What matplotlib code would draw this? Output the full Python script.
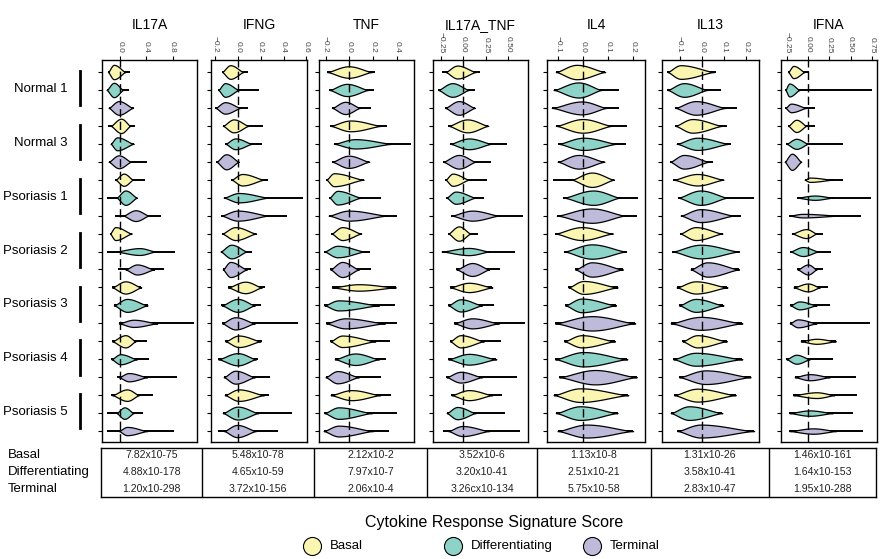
import numpy as np
import matplotlib
matplotlib.use("Agg")
import matplotlib.pyplot as plt
from matplotlib.lines import Line2D
import matplotlib.transforms as mtransforms

plt.rcParams['font.family'] = ['Liberation Sans', 'DejaVu Sans']

# ---------------------------------------------------------------- data
cytokines = ["IL17A", "IFNG", "TNF", "IL17A_TNF", "IL4", "IL13", "IFNA"]
samples = ["Normal 1", "Normal 3", "Psoriasis 1", "Psoriasis 2",
           "Psoriasis 3", "Psoriasis 4", "Psoriasis 5"]
layers = ["Basal", "Differentiating", "Terminal"]
layer_colors = ["#FAF5B0", "#8DD3C7", "#BEBADA"]

# one row per violin (sample x layer, top to bottom):
# (whisker min, body low, mode, body high, whisker max, half width)
il17a = [
    (-0.18, -0.18, -0.09, 0.086, 0.16, 0.40),
    (-0.20, -0.20, -0.09, 0.05, 0.137, 0.40),
    (-0.17, -0.17, -0.015, 0.20, 0.22, 0.38),
    (-0.18, -0.14, 0.02, 0.16, 0.23, 0.40),
    (-0.14, -0.14, -0.04, 0.21, 0.21, 0.36),
    (-0.17, -0.17, -0.015, 0.17, 0.416, 0.36),
    (-0.066, -0.066, 0.06, 0.20, 0.375, 0.34),
    (-0.19, -0.05, 0.086, 0.26, 0.26, 0.40),
    (-0.076, 0.05, 0.24, 0.44, 0.63, 0.30),
    (-0.15, -0.15, -0.066, 0.18, 0.18, 0.36),
    (-0.20, -0.066, 0.30, 0.54, 0.84, 0.19),
    (-0.03, 0.086, 0.26, 0.52, 0.67, 0.28),
    (-0.117, -0.117, 0.086, 0.325, 0.325, 0.34),
    (-0.09, -0.09, 0.11, 0.42, 0.42, 0.36),
    (-0.015, -0.015, 0.21, 0.57, 1.13, 0.20),
    (-0.117, -0.117, 0.086, 0.24, 0.416, 0.34),
    (-0.127, -0.127, 0.01, 0.26, 0.44, 0.28),
    (-0.04, -0.015, 0.137, 0.416, 0.87, 0.23),
    (-0.14, -0.117, 0.11, 0.29, 0.50, 0.32),
    (-0.19, -0.05, 0.07, 0.21, 0.355, 0.32),
    (-0.20, -0.015, 0.11, 0.416, 0.82, 0.23),
]
ifng = [
    (-0.137, -0.137, -0.064, 0.05, 0.09, 0.38),
    (-0.17, -0.17, -0.11, 0.01, 0.19, 0.38),
    (-0.195, -0.195, -0.11, 0.025, 0.09, 0.32),
    (-0.13, -0.13, -0.035, 0.095, 0.22, 0.36),
    (-0.108, -0.108, -0.02, 0.125, 0.21, 0.30),
    (-0.186, -0.186, -0.10, 0.01, 0.01, 0.42),
    (-0.055, -0.055, 0.04, 0.23, 0.265, 0.32),
    (-0.122, -0.122, 0.01, 0.27, 0.57, 0.26),
    (-0.143, -0.143, 0.0, 0.27, 0.43, 0.28),
    (-0.137, -0.137, -0.02, 0.16, 0.16, 0.36),
    (-0.15, -0.15, -0.055, 0.08, 0.125, 0.38),
    (-0.13, -0.13, -0.064, 0.08, 0.12, 0.42),
    (-0.085, -0.085, 0.067, 0.21, 0.24, 0.32),
    (-0.15, -0.14, 0.0, 0.15, 0.20, 0.36),
    (-0.137, -0.137, -0.02, 0.15, 0.53, 0.34),
    (-0.108, -0.108, 0.01, 0.20, 0.21, 0.32),
    (-0.17, -0.17, 0.0, 0.16, 0.175, 0.34),
    (-0.122, -0.122, -0.02, 0.15, 0.285, 0.36),
    (-0.113, -0.113, 0.01, 0.23, 0.27, 0.32),
    (-0.13, -0.13, 0.0, 0.18, 0.475, 0.36),
    (-0.175, -0.12, -0.005, 0.16, 0.35, 0.34),
]
tnf = [
    (-0.188, -0.188, -0.005, 0.19, 0.22, 0.32),
    (-0.168, -0.168, -0.02, 0.16, 0.21, 0.34),
    (-0.146, -0.146, -0.034, 0.09, 0.18, 0.34),
    (-0.16, -0.16, 0.01, 0.27, 0.317, 0.30),
    (-0.13, -0.13, 0.05, 0.36, 0.52, 0.26),
    (-0.146, -0.146, -0.005, 0.168, 0.168, 0.34),
    (-0.193, -0.193, -0.13, 0.12, 0.12, 0.36),
    (-0.168, -0.168, -0.10, 0.10, 0.27, 0.38),
    (-0.174, -0.174, -0.005, 0.32, 0.40, 0.28),
    (-0.15, -0.15, -0.06, 0.10, 0.10, 0.36),
    (-0.21, -0.21, -0.10, 0.13, 0.17, 0.32),
    (-0.16, -0.16, -0.06, 0.08, 0.18, 0.42),
    (-0.146, -0.146, 0.08, 0.39, 0.39, 0.18),
    (-0.21, -0.21, -0.09, 0.25, 0.38, 0.28),
    (-0.196, -0.196, -0.034, 0.30, 0.40, 0.28),
    (-0.16, -0.16, -0.06, 0.22, 0.34, 0.32),
    (-0.123, -0.123, 0.05, 0.25, 0.31, 0.32),
    (-0.20, -0.20, -0.10, 0.08, 0.27, 0.34),
    (-0.157, -0.157, 0.02, 0.26, 0.35, 0.28),
    (-0.21, -0.21, -0.09, 0.19, 0.40, 0.32),
    (-0.216, -0.216, -0.09, 0.20, 0.33, 0.30),
]
il17a_tnf = [
    (-0.24, -0.20, -0.067, 0.14, 0.187, 0.36),
    (-0.284, -0.284, -0.123, 0.063, 0.13, 0.38),
    (-0.205, -0.205, -0.05, 0.13, 0.13, 0.38),
    (-0.168, -0.168, 0.045, 0.28, 0.28, 0.36),
    (-0.15, -0.15, 0.063, 0.317, 0.49, 0.30),
    (-0.228, -0.228, -0.05, 0.138, 0.313, 0.38),
    (-0.20, -0.20, -0.12, 0.063, 0.27, 0.34),
    (-0.19, -0.19, -0.086, 0.138, 0.23, 0.34),
    (-0.134, -0.134, 0.10, 0.40, 0.668, 0.28),
    (-0.17, -0.17, -0.05, 0.08, 0.168, 0.40),
    (-0.243, -0.243, 0.063, 0.29, 0.575, 0.20),
    (-0.078, -0.078, 0.10, 0.29, 0.407, 0.36),
    (-0.15, -0.15, 0.063, 0.325, 0.325, 0.26),
    (-0.17, -0.17, -0.03, 0.21, 0.343, 0.34),
    (-0.105, -0.105, 0.10, 0.40, 0.687, 0.28),
    (-0.15, -0.15, -0.03, 0.23, 0.425, 0.34),
    (-0.17, -0.17, 0.063, 0.37, 0.37, 0.30),
    (-0.19, -0.19, -0.03, 0.21, 0.60, 0.30),
    (-0.134, -0.134, 0.063, 0.325, 0.43, 0.28),
    (-0.187, -0.187, -0.067, 0.138, 0.466, 0.34),
    (-0.228, -0.17, -0.01, 0.29, 0.64, 0.28),
]
il4 = [
    (-0.107, -0.107, -0.024, 0.089, 0.089, 0.40),
    (-0.116, -0.116, -0.017, 0.075, 0.145, 0.42),
    (-0.123, -0.123, -0.004, 0.095, 0.144, 0.36),
    (-0.107, -0.107, 0.0, 0.115, 0.175, 0.38),
    (-0.097, -0.097, 0.003, 0.135, 0.172, 0.34),
    (-0.10, -0.10, -0.017, 0.086, 0.086, 0.38),
    (-0.12, -0.044, 0.036, 0.124, 0.124, 0.40),
    (-0.077, -0.077, 0.042, 0.148, 0.22, 0.40),
    (-0.103, -0.103, 0.036, 0.168, 0.214, 0.40),
    (-0.11, -0.11, -0.004, 0.119, 0.119, 0.36),
    (-0.074, -0.074, 0.036, 0.172, 0.172, 0.40),
    (-0.03, -0.03, 0.036, 0.159, 0.159, 0.40),
    (-0.057, -0.057, 0.003, 0.138, 0.138, 0.36),
    (-0.07, -0.07, -0.004, 0.132, 0.132, 0.38),
    (-0.11, -0.11, 0.036, 0.208, 0.208, 0.40),
    (-0.074, -0.074, -0.004, 0.128, 0.128, 0.34),
    (-0.11, -0.11, 0.003, 0.177, 0.177, 0.40),
    (-0.094, -0.094, 0.049, 0.214, 0.214, 0.40),
    (-0.116, -0.116, -0.01, 0.181, 0.181, 0.38),
    (-0.107, -0.107, -0.01, 0.138, 0.138, 0.38),
    (-0.10, -0.10, 0.016, 0.20, 0.20, 0.36),
]
il13 = [
    (-0.155, -0.155, -0.095, 0.056, 0.063, 0.38),
    (-0.155, -0.155, -0.08, 0.026, 0.086, 0.38),
    (-0.12, -0.12, -0.027, 0.108, 0.16, 0.38),
    (-0.12, -0.12, -0.042, 0.093, 0.116, 0.38),
    (-0.113, -0.113, -0.02, 0.123, 0.13, 0.34),
    (-0.143, -0.143, -0.08, 0.033, 0.053, 0.38),
    (-0.128, -0.128, -0.02, 0.098, 0.098, 0.32),
    (-0.107, -0.107, -0.005, 0.116, 0.236, 0.40),
    (-0.095, -0.095, -0.005, 0.146, 0.176, 0.36),
    (-0.098, -0.098, -0.027, 0.093, 0.093, 0.36),
    (-0.132, -0.132, -0.005, 0.168, 0.168, 0.38),
    (-0.05, -0.05, 0.026, 0.168, 0.168, 0.40),
    (-0.113, -0.113, -0.027, 0.116, 0.116, 0.34),
    (-0.102, -0.102, -0.027, 0.098, 0.098, 0.36),
    (-0.14, -0.14, -0.005, 0.183, 0.183, 0.36),
    (-0.087, -0.087, -0.02, 0.113, 0.113, 0.34),
    (-0.128, -0.128, -0.027, 0.183, 0.183, 0.36),
    (-0.102, -0.102, 0.018, 0.22, 0.22, 0.38),
    (-0.125, -0.125, -0.02, 0.153, 0.153, 0.36),
    (-0.14, -0.14, -0.057, 0.093, 0.093, 0.38),
    (-0.11, -0.11, -0.005, 0.236, 0.236, 0.36),
]
ifna = [
    (-0.235, -0.235, -0.17, -0.04, 0.01, 0.34),
    (-0.267, -0.267, -0.22, -0.10, 0.75, 0.36),
    (-0.267, -0.267, -0.20, -0.02, 0.08, 0.24),
    (-0.235, -0.235, -0.137, -0.02, 0.08, 0.34),
    (-0.255, -0.255, -0.137, 0.0, 0.41, 0.28),
    (-0.275, -0.275, -0.19, -0.08, -0.08, 0.45),
    (-0.04, -0.04, 0.02, 0.29, 0.41, 0.12),
    (-0.13, -0.13, 0.08, 0.29, 0.74, 0.12),
    (-0.22, -0.22, -0.06, 0.37, 0.62, 0.10),
    (-0.19, -0.19, -0.02, 0.10, 0.18, 0.25),
    (-0.21, -0.21, -0.06, 0.12, 0.27, 0.25),
    (-0.125, -0.125, 0.0, 0.10, 0.18, 0.28),
    (-0.17, -0.17, 0.0, 0.137, 0.235, 0.22),
    (-0.21, -0.21, -0.10, 0.10, 0.255, 0.22),
    (-0.215, -0.215, -0.12, 0.10, 0.725, 0.22),
    (-0.086, -0.086, 0.10, 0.325, 0.325, 0.14),
    (-0.255, -0.255, -0.137, 0.02, 0.29, 0.25),
    (-0.157, -0.157, 0.02, 0.255, 0.56, 0.17),
    (-0.176, -0.176, 0.10, 0.31, 0.57, 0.16),
    (-0.22, -0.22, 0.02, 0.29, 0.53, 0.15),
    (-0.22, -0.22, 0.06, 0.33, 0.65, 0.15),
]
violins = [il17a, ifng, tnf, il17a_tnf, il4, il13, ifna]

x_limits = [(-0.27, 1.17), (-0.233, 0.605), (-0.255, 0.544), (-0.34, 0.725),
            (-0.142, 0.247), (-0.179, 0.258), (-0.318, 0.81)]
x_ticks = [[0.0, 0.4, 0.8], [-0.2, 0.0, 0.2, 0.4, 0.6], [-0.2, 0.0, 0.2, 0.4],
           [-0.25, 0.0, 0.25, 0.5], [-0.1, 0.0, 0.1, 0.2], [-0.1, 0.0, 0.1, 0.2],
           [-0.25, 0.0, 0.25, 0.5, 0.75]]
x_ticklabels = [["0.0", "0.4", "0.8"], ["\u22120.2", "0.0", "0.2", "0.4", "0.6"],
                ["\u22120.2", "0.0", "0.2", "0.4"],
                ["\u22120.25", "0.00", "0.25", "0.50"],
                ["\u22120.1", "0.0", "0.1", "0.2"], ["\u22120.1", "0.0", "0.1", "0.2"],
                ["\u22120.25", "0.00", "0.25", "0.50", "0.75"]]

p_basal = ["7.82x10-75", "5.48x10-78", "2.12x10-2", "3.52x10-6",
           "1.13x10-8", "1.31x10-26", "1.46x10-161"]
p_diff = ["4.88x10-178", "4.65x10-59", "7.97x10-7", "3.20x10-41",
          "2.51x10-21", "3.58x10-41", "1.64x10-153"]
p_term = ["1.20x10-298", "3.72x10-156", "2.06x10-4", "3.26cx10-134",
          "5.75x10-58", "2.83x10-47", "1.95x10-288"]

# ---------------------------------------------------------------- layout
W, H = 888, 559
fig = plt.figure(figsize=(W / 100, H / 100), dpi=100)


def fx(px):
    return px / W


def fy(py):
    return 1 - py / H


panel_left = [102, 211, 319, 433, 547, 662, 781]
panel_right = [197, 307, 414, 528, 645, 759, 877]
panel_top, panel_bottom = 60, 442
n_rows = len(samples) * len(layers)


def violin(ax, row, wmin, lo, mode, hi, wmax, w, color):
    ax.plot([wmin, wmax], [row, row], color="black", lw=1.4,
            solid_capstyle="butt", zorder=2)
    xl = np.linspace(lo, mode, 50)
    xr = np.linspace(mode, hi, 50)[1:]
    tl = (mode - xl) / max(mode - lo, 1e-9)
    tr = (xr - mode) / max(hi - mode, 1e-9)
    x = np.concatenate([xl, xr])
    t = np.clip(np.concatenate([tl, tr]), 0, 1)
    h = w * (1 - t) ** 1.6 * (1 + 1.6 * t)
    ax.fill_between(x, row - h, row + h, facecolor=color, edgecolor="black",
                    lw=0.9, zorder=3)


axes = []
for i, name in enumerate(cytokines):
    ax = fig.add_axes([fx(panel_left[i]), fy(panel_bottom),
                       fx(panel_right[i]) - fx(panel_left[i]),
                       (panel_bottom - panel_top) / H])
    for r, v in enumerate(violins[i]):
        violin(ax, r, *v, color=layer_colors[r % 3])
    ax.axvline(0, color="black", lw=1.0, ls=(0, (6, 3)), zorder=4)
    ax.set_xlim(*x_limits[i])
    ax.set_ylim(n_rows - 1 + 0.61, -0.67)
    ax.xaxis.tick_top()
    ax.set_xticks(x_ticks[i])
    ax.set_xticklabels(x_ticklabels[i], rotation=270, fontsize=6,
                       color="#444444")
    ax.tick_params(axis="x", length=3, pad=2, width=0.8)
    ax.set_yticks(range(n_rows))
    ax.set_yticklabels([])
    ax.tick_params(axis="y", length=3, width=0.8)
    for s in ax.spines.values():
        s.set_linewidth(1.0)
    fig.text(fx((panel_left[i] + panel_right[i]) / 2), fy(25), name,
             ha="center", va="center", fontsize=10)
    axes.append(ax)

# sample labels with brackets on the left
trans = mtransforms.blended_transform_factory(fig.transFigure, axes[0].transData)
for g, s in enumerate(samples):
    fig.text(fx(68), 3 * g + 0.95, s, transform=trans, ha="right",
             va="center", fontsize=9.5)
    fig.add_artist(Line2D([fx(80), fx(80)], [3 * g - 0.05, 3 * g + 1.85],
                          transform=trans, color="black", lw=2))

# p-value table
col_edges = [101, 202, 314, 427, 537, 651, 769, 876]
tax = fig.add_axes([fx(col_edges[0]), fy(497),
                    fx(col_edges[-1]) - fx(col_edges[0]), 49 / H])
tax.set_xlim(col_edges[0], col_edges[-1])
tax.set_ylim(3, 0)
tax.set_xticks([])
tax.set_yticks([])
for s in tax.spines.values():
    s.set_linewidth(1.0)
for e in col_edges[1:-1]:
    tax.axvline(e, color="black", lw=1.0)
row_y = [0.45, 1.47, 2.5]
for j, vals in enumerate([p_basal, p_diff, p_term]):
    for i, v in enumerate(vals):
        tax.text((col_edges[i] + col_edges[i + 1]) / 2, row_y[j], v,
                 ha="center", va="center", fontsize=7.6, color="#222222")
for j, lab in enumerate(layers):
    fig.text(fx(8), fy(455 + 17 * j), lab, ha="left", va="center", fontsize=9.5)

# legend, placed by hand
fig.text(fx(494), fy(522), "Cytokine Response Signature Score",
         ha="center", va="center", fontsize=11.5)
legend_marker_x = [312, 453, 592]
for c, lab, mx in zip(layer_colors, layers, legend_marker_x):
    fig.add_artist(Line2D([fx(mx)], [fy(546)], transform=fig.transFigure,
                          marker="o", ls="", markersize=13,
                          markerfacecolor=c, markeredgecolor="black",
                          markeredgewidth=0.8))
    fig.text(fx(mx + 18), fy(546), lab, ha="left", va="center", fontsize=9.5)

fig.savefig("out.png", dpi=100)
